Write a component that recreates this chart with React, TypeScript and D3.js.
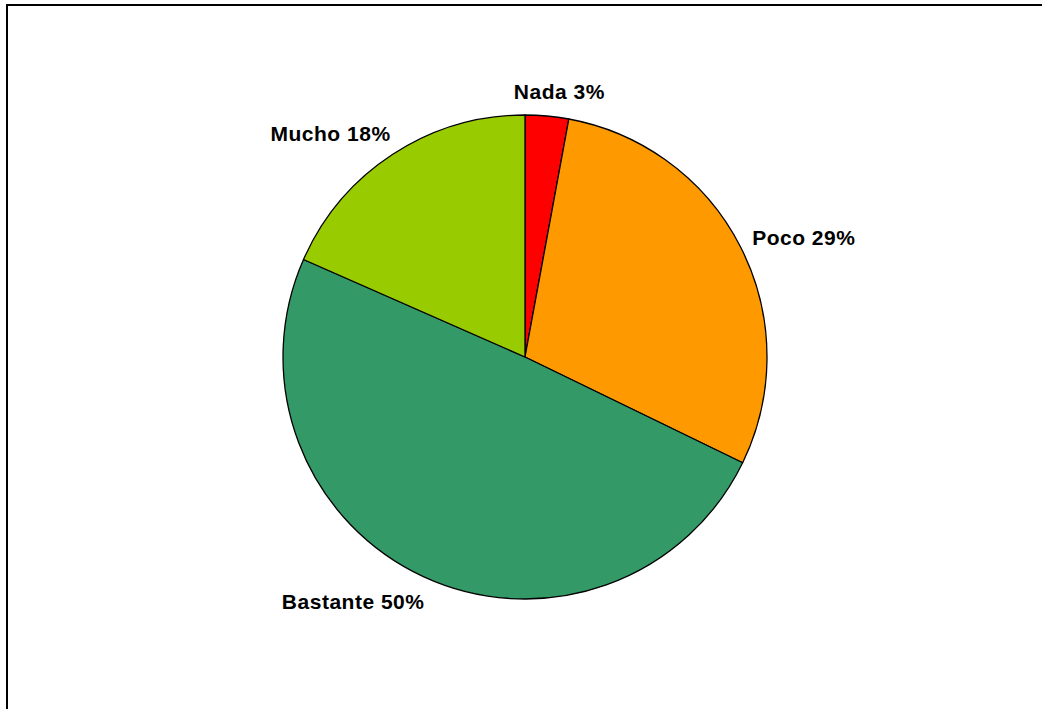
import React from "react";
import * as d3 from "d3";

const categories = ["Nada", "Poco", "Bastante", "Mucho"];
const values = [2.9, 29.3, 49.4, 18.4];
const labelPct = [3, 29, 50, 18];
const colors = ["#FF0000", "#FF9900", "#339966", "#99CC00"];

export default function App() {
  const W = 1042, H = 709;
  const cx = 525, cy = 357, r = 242;
  const pie = d3.pie<number>().sort(null).value((d) => d)(values);
  const arc = d3.arc<d3.PieArcDatum<number>>().innerRadius(0).outerRadius(r);
  const R = 268;
  return (
    <svg width={W} height={H} style={{ position: "absolute", left: 0, top: 0 }}>
      <rect x={0} y={0} width={W} height={H} fill="#fff" />
      <rect x={7} y={5} width={W + 20} height={H + 20} fill="none" stroke="#000" strokeWidth={2} />
      <g transform={`translate(${cx},${cy})`}>
        {pie.map((p, i) => (
          <path key={i} d={arc(p) || ""} fill={colors[i]} stroke="#000" strokeWidth={1.3} strokeLinejoin="round" />
        ))}
        {pie.map((p, i) => {
          const a = (p.startAngle + p.endAngle) / 2;
          const s = Math.sin(a), c = Math.cos(a);
          const anchor = Math.abs(s) < 0.3 ? "middle" : s > 0 ? "start" : "end";
          const dx = anchor === "middle" ? 10 : anchor === "start" ? -12 : 12;
          const x = s * R + dx;
          const y = -c * R + 3;
          return (
            <text key={"t" + i} x={x} y={y} textAnchor={anchor} dominantBaseline="middle"
              fontFamily="'Liberation Sans', Arial, sans-serif" fontWeight="bold" fontSize={21}
              letterSpacing={0.5} fill="#000">
              {`${categories[i]} ${labelPct[i]}%`}
            </text>
          );
        })}
      </g>
    </svg>
  );
}
